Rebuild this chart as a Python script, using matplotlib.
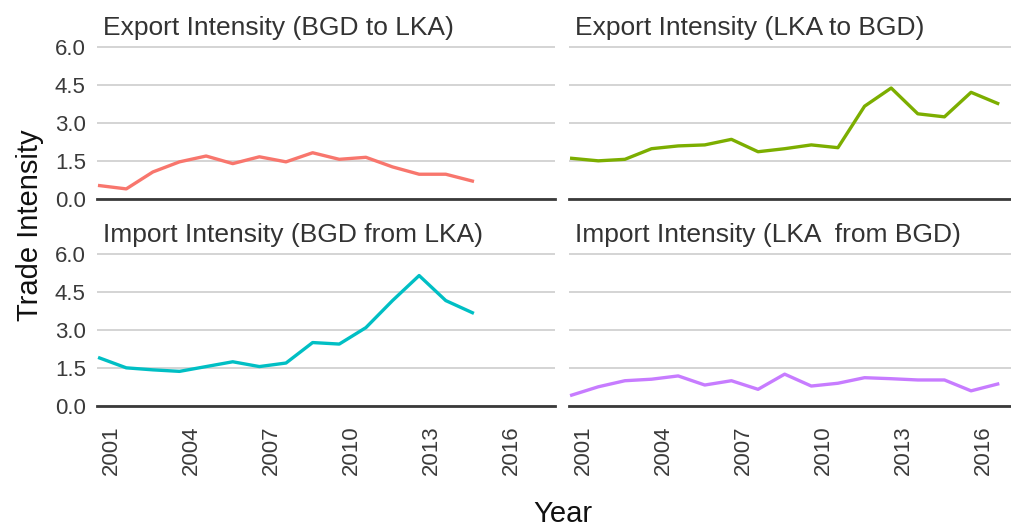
import matplotlib
matplotlib.use('Agg')
from matplotlib import pyplot as plt
from matplotlib.transforms import ScaledTranslation
import numpy as np

plt.rcParams['font.family'] = ['Liberation Sans', 'DejaVu Sans']

years_short = list(range(2001, 2016))
years_long = list(range(2001, 2018))

export_bgd_lka = [0.53, 0.40, 1.07, 1.47, 1.70, 1.40, 1.67, 1.47, 1.83, 1.57,
                  1.65, 1.27, 0.98, 0.98, 0.71]
export_lka_bgd = [1.61, 1.51, 1.57, 1.99, 2.10, 2.14, 2.36, 1.87, 1.99, 2.14,
                  2.03, 3.67, 4.39, 3.37, 3.25, 4.22, 3.78]
import_bgd_lka = [1.90, 1.51, 1.43, 1.37, 1.56, 1.75, 1.56, 1.70, 2.51, 2.45,
                  3.10, 4.17, 5.16, 4.17, 3.69]
import_lka_bgd = [0.43, 0.76, 1.00, 1.06, 1.19, 0.83, 1.00, 0.66, 1.26, 0.79,
                  0.90, 1.12, 1.08, 1.03, 1.03, 0.60, 0.87]

titles = ['Export Intensity (BGD to LKA)', 'Export Intensity (LKA to BGD)',
          'Import Intensity (BGD from LKA)', 'Import Intensity (LKA  from BGD)']
colors = ['#F8766D', '#7CAE00', '#00BFC4', '#C77CFF']
series = [(years_short, export_bgd_lka), (years_long, export_lka_bgd),
          (years_short, import_bgd_lka), (years_long, import_lka_bgd)]

x_ticks = [2001, 2004, 2007, 2010, 2013, 2016]
y_ticks = [0.0, 1.5, 3.0, 4.5, 6.0]

fig = plt.figure(figsize=(10.11, 5.29), dpi=100)

W, H = 0.453, 0.2987
boxes = [(0.0959, 0.6238), (0.5628, 0.6238), (0.0959, 0.2325), (0.5628, 0.2325)]

for i, ((x0, y0), (xs, ys), title, col) in enumerate(zip(boxes, series, titles, colors)):
    ax = fig.add_axes([x0, y0, W, H])
    ax.plot(xs, ys, color=col, lw=2.4, solid_joinstyle='round')
    ax.set_xlim(2000.9, 2018.1)
    ax.set_ylim(0, 6.25)
    ax.set_yticks(y_ticks)
    ax.set_xticks(x_ticks)
    ax.grid(axis='y', color='#d4d4d4', lw=1.4)
    ax.set_axisbelow(True)
    for s in ['top', 'right', 'left']:
        ax.spines[s].set_visible(False)
    ax.spines['bottom'].set_color('#3a3a3a')
    ax.spines['bottom'].set_linewidth(2.0)
    ax.tick_params(length=0, labelsize=16, colors='#3a3a3a')
    ax.tick_params(axis='y', pad=8)
    ax.tick_params(axis='x', pad=14)
    if i % 2 == 0:
        ax.set_yticklabels([f'{v:.1f}' for v in y_ticks])
    else:
        ax.set_yticklabels([])
    if i >= 2:
        ax.set_xticklabels([str(y) for y in x_ticks], rotation=90, va='top', ha='center')
        shift = ScaledTranslation(0.12, 0, fig.dpi_scale_trans)
        for lab in ax.get_xticklabels():
            lab.set_transform(lab.get_transform() + shift)
    else:
        ax.set_xticklabels([])
    ax.annotate(title, xy=(0, 1), xycoords='axes fraction', xytext=(6, 6),
                textcoords='offset pixels', ha='left', va='baseline',
                fontsize=19, color='#333333')

fig.text(0.03, 0.575, 'Trade Intensity', rotation=90, ha='center', va='center',
         fontsize=21, color='#111111')
fig.text(0.557, 0.028, 'Year', ha='center', va='center', fontsize=21, color='#111111')

fig.savefig('out.png', dpi=100)
